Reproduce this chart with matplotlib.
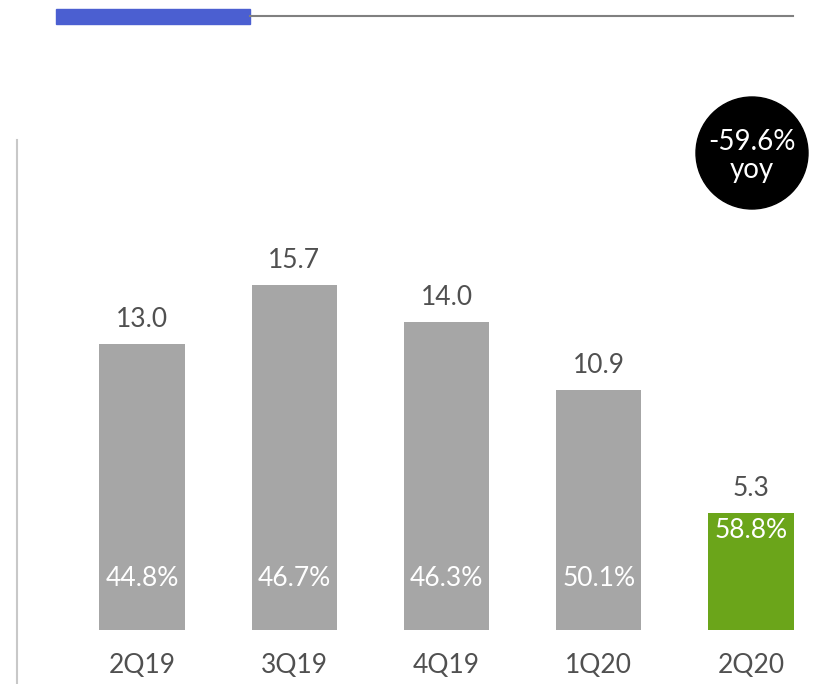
import matplotlib.pyplot as plt
from matplotlib.patches import Rectangle, Ellipse
from matplotlib.lines import Line2D

quarters = ["2Q19", "3Q19", "4Q19", "1Q20", "2Q20"]
values = [13.0, 15.7, 14.0, 10.9, 5.3]
margins = ["44.8%", "46.7%", "46.3%", "50.1%", "58.8%"]
yoy_text = "-59.6%\nyoy"

GREY = "#a6a6a6"
GREEN = "#6ba51a"
BLUE = "#4b5fd1"
TEXT = "#505050"
W, H = 818, 684

plt.rcParams["font.family"] = ["Lato", "DejaVu Sans"]

fig = plt.figure(figsize=(W / 100, H / 100), dpi=100)

# axes in pixel units: left spine at x=17, baseline at y=630, 22 px per unit
ax = fig.add_axes([17 / W, 0, 1 - 17 / W, (H - 140) / H])
ax.set_xlim((17 - 142) / 152.25, (W - 142) / 152.25)
ax.set_ylim(-(H - 630) / 22, (630 - 140) / 22)

colors = [GREY] * (len(values) - 1) + [GREEN]
xs = range(len(values))
ax.bar(xs, values, width=0.56, color=colors)

for i, (v, m) in enumerate(zip(values, margins)):
    ax.text(i, v + 0.55, f"{v:.1f}", ha="center", va="bottom",
            fontsize=19, color=TEXT)
    last = i == len(values) - 1
    ym = v - 0.8 if last else 2.36
    ax.text(i, ym, m, ha="center", va="center", fontsize=19,
            color="white")
    ax.text(i, -1.6, quarters[i], ha="center", va="center",
            fontsize=19, color=TEXT)

for s in ["top", "right", "bottom"]:
    ax.spines[s].set_visible(False)
ax.spines["left"].set_color("#c8c8c8")
ax.spines["left"].set_linewidth(1.5)
ax.set_xticks([])
ax.set_yticks([])

# header rule
fig.add_artist(Line2D([250 / W, 793 / W], [1 - 16 / H, 1 - 16 / H],
                      color="#808080", lw=1.5))
fig.add_artist(Rectangle((56 / W, 1 - 24 / H), 194 / W, 15 / H,
                         color=BLUE, transform=fig.transFigure))

# yoy badge
cx, cy, r = 752, 153, 56
fig.add_artist(Ellipse((cx / W, 1 - cy / H), 2 * r / W, 2 * r / H,
                       color="black", transform=fig.transFigure))
fig.text(cx / W, 1 - (cy + 3) / H, yoy_text, ha="center", va="center",
         fontsize=20, color="white", linespacing=1.1)

fig.savefig("out.png", dpi=100)
